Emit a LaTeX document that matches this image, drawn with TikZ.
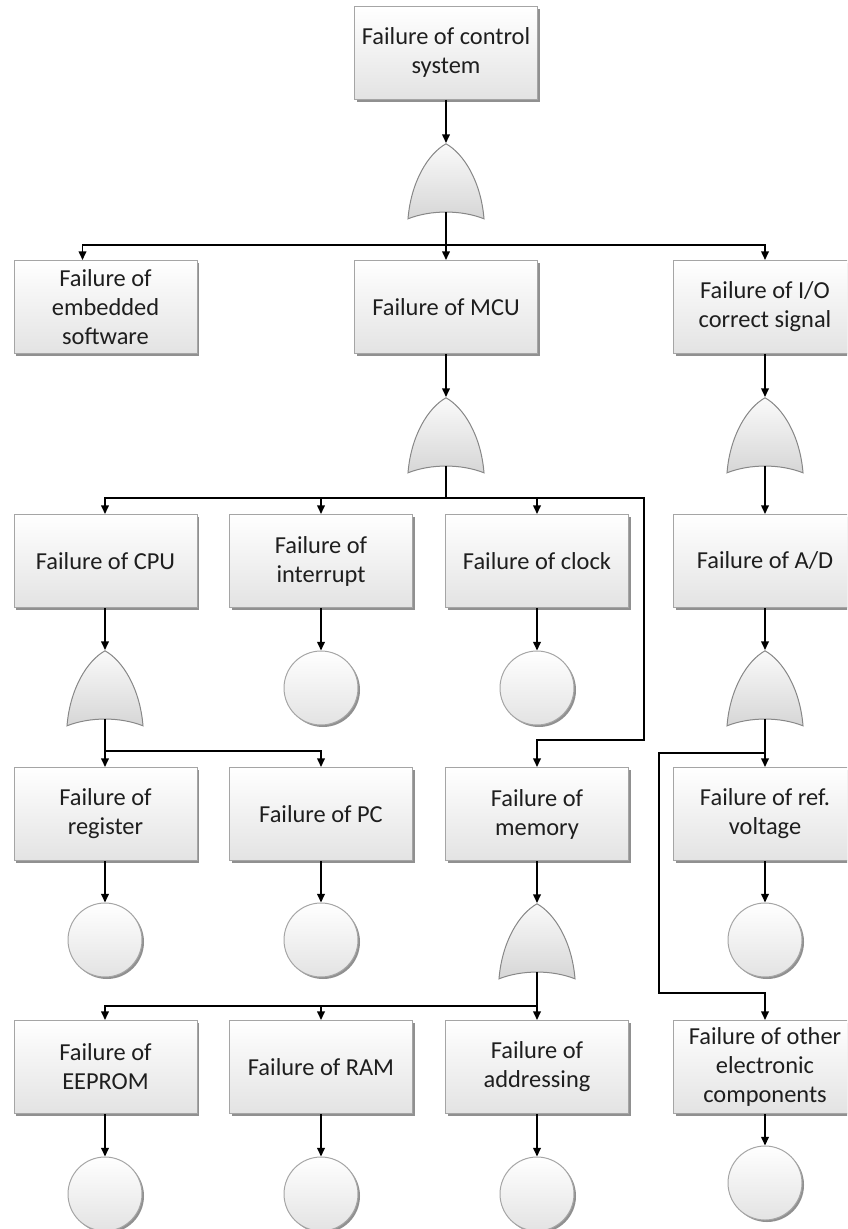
\documentclass[tikz,border=0pt]{standalone}
\usepackage{fontspec}
\setmainfont{Carlito}
\usetikzlibrary{arrows.meta,shadows}
\definecolor{boxline}{RGB}{165,165,165}
\definecolor{gateline}{RGB}{135,135,135}
\definecolor{txt}{RGB}{30,30,30}
\definecolor{shadowc}{RGB}{125,125,125}
\tikzset{
  fbox/.style={rectangle, draw=boxline, line width=0.5pt, top color=white, bottom color=black!11,
    minimum width=91.5pt, minimum height=46.5pt, inner sep=1pt, align=center, text=txt,
    font=\fontsize{12.2}{14.5}\selectfont,
    drop shadow={shadow xshift=1.1pt, shadow yshift=-1.1pt, fill=shadowc, opacity=0.85}},
  basic/.style={circle, draw=boxline, line width=0.5pt, top color=white, bottom color=black!11,
    minimum size=37pt, inner sep=0pt,
    drop shadow={shadow xshift=1pt, shadow yshift=-1pt, fill=shadowc, opacity=0.85}},
  gatebox/.style={rectangle, minimum width=38pt, minimum height=34pt, inner sep=0pt},
  gateshape/.style={draw=gateline, line width=0.5pt, top color=black!2, bottom color=black!16},
  arr/.style={draw=black, line width=0.8pt, -{Triangle[length=4.3pt,width=3.8pt]}},
  ln/.style={draw=black, line width=0.8pt},
}
\newcommand{\orgate}[3]{%
  \node[gatebox, anchor=north] (#1) at (#2,#3) {};
  \begin{scope}[shift={(#1.south)}]
    \path[gateshape] (-38,7) .. controls (-35,-30) and (-18,-58) .. (0,-68)
      .. controls (18,-58) and (35,-30) .. (38,7)
      .. controls (15,-2) and (-15,-2) .. cycle;
  \end{scope}
}
\begin{document}
\begin{tikzpicture}[x=0.5pt,y=-0.5pt]
\useasboundingbox (0,0) rectangle (847,1229);
\clip (0,0) rectangle (847,1229);

% level 0
\node[fbox] (top) at (446,53) {Failure of control\\system};
\orgate{g1}{446}{143}
\draw[arr] (top.south) -- (g1.north);

% level 1
\node[fbox] (emb) at (105.5,307) {Failure of\\embedded\\software};
\node[fbox] (mcu) at (446,307) {Failure of MCU};
\node[fbox] (io) at (765,307) {Failure of I/O\\correct signal};
\coordinate (j1) at (446,245);
\draw[ln] (g1.south) -- (j1);
\draw[arr] (j1) -| ([xshift=-11.5pt]emb.north);
\draw[arr] (j1) -- (mcu.north);
\draw[arr] (j1) -| (io.north);

\orgate{g2}{446}{397}
\orgate{gio}{765}{397}
\draw[arr] (mcu.south) -- (g2.north);
\draw[arr] (io.south) -- (gio.north);

% level 2
\node[fbox] (cpu) at (105.5,561) {Failure of CPU};
\node[fbox] (intr) at (321,561) {Failure of\\interrupt};
\node[fbox] (clk) at (537,561) {Failure of clock};
\node[fbox] (ad) at (765,561) {Failure of A/D};
\draw[arr] (gio.south) -- (ad.north);

\coordinate (j2) at (446,498);
\coordinate (j2r) at (644,498);
\coordinate (b2) at (644,740);
\draw[ln] (g2.south) -- (j2);
\draw[arr] (j2) -| ([xshift=-0.25pt]cpu.north);
\draw[arr] (j2) -| (intr.north);
\draw[arr] (j2) -| (clk.north);

\orgate{gcpu}{105}{650}
\draw[arr] ([xshift=-0.25pt]cpu.south) -- (gcpu.north);
\node[basic] (cintr) at (321,688) {};
\node[basic] (cclk) at (537,688) {};
\draw[arr] (intr.south) -- (cintr.north);
\draw[arr] (clk.south) -- (cclk.north);
\orgate{gad}{765}{650}
\draw[arr] (ad.south) -- (gad.north);

% level 3
\node[fbox] (reg) at (105.5,814) {Failure of\\register};
\node[fbox] (pc) at (321,814) {Failure of PC};
\node[fbox] (mem) at (537,814) {Failure of\\memory};
\node[fbox] (ref) at (765,814) {Failure of ref.\\voltage};

\coordinate (j3) at (105,751);
\draw[arr] (gcpu.south) -- (reg.north -| gcpu.south);
\draw[arr] (j3) -| (pc.north);
\draw[arr] (j2) -- (j2r) -- (b2) -| (mem.north);

\coordinate (j4) at (765,753);
\coordinate (b1) at (659,993);
\draw[arr] (gad.south) -- (ref.north);

\node[basic] (creg) at (105,940) {};
\node[basic] (cpc) at (321,940) {};
\node[basic] (cref) at (765,940) {};
\draw[arr] (reg.south -| creg.north) -- (creg.north);
\draw[arr] (pc.south) -- (cpc.north);
\draw[arr] (ref.south) -- (cref.north);

\orgate{gmem}{537}{903}
\draw[arr] (mem.south) -- (gmem.north);

% level 4
\node[fbox] (eep) at (105.5,1067) {Failure of\\EEPROM};
\node[fbox] (ram) at (321,1067) {Failure of RAM};
\node[fbox] (addr) at (537,1067) {Failure of\\addressing};
\node[fbox] (oth) at (765,1067) {Failure of other\\electronic\\components};
\coordinate (j5) at (537,1006);
\draw[arr] (gmem.south) -- (addr.north);
\draw[arr] (j5) -| (eep.north -| j3);
\draw[arr] (j5) -| (ram.north);
\draw[arr] (j4) -| (b1) -| (oth.north);

\node[basic] (ceep) at (105,1194) {};
\node[basic] (cram) at (321,1194) {};
\node[basic] (caddr) at (537,1194) {};
\node[basic] (coth) at (765,1183) {};
\draw[arr] (eep.south -| ceep.north) -- (ceep.north);
\draw[arr] (ram.south) -- (cram.north);
\draw[arr] (addr.south) -- (caddr.north);
\draw[arr] (oth.south) -- (coth.north);
\end{tikzpicture}
\end{document}
